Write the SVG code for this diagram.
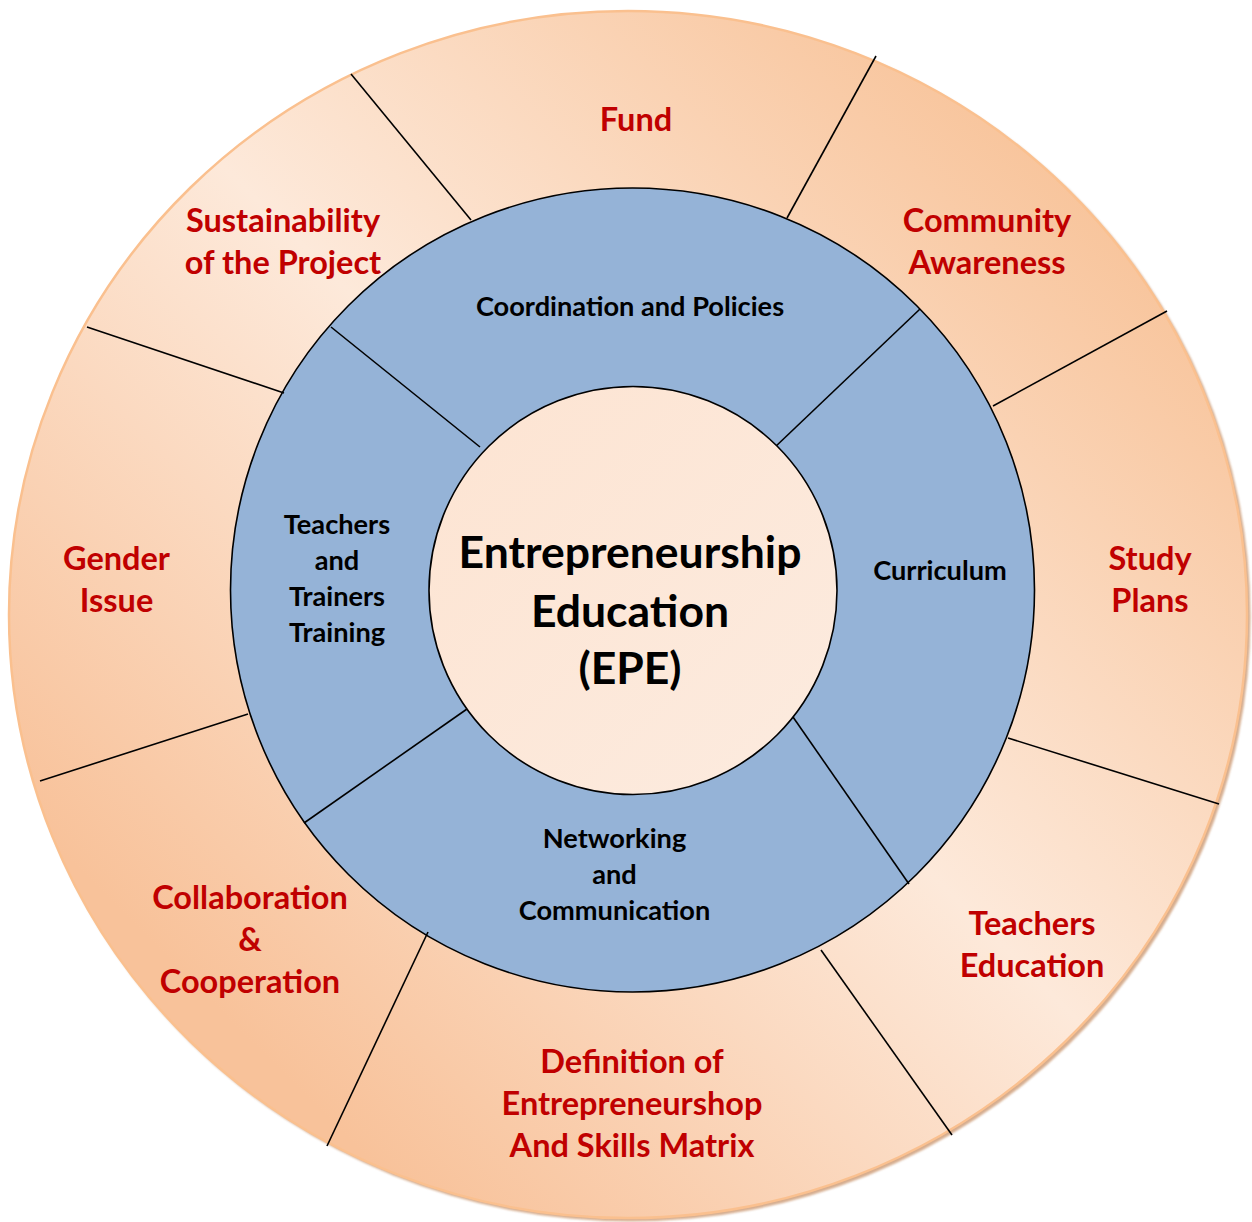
<svg xmlns="http://www.w3.org/2000/svg" width="1252" height="1222" viewBox="0 0 1252 1222">
<style>
.red{font-family:Lato,"Liberation Sans",sans-serif;font-weight:700;font-size:32.5px;fill:#C00000;text-anchor:middle}
.blk{font-family:Lato,"Liberation Sans",sans-serif;font-weight:700;font-size:27.2px;fill:#000;text-anchor:middle}
.ctr{font-family:Lato,"Liberation Sans",sans-serif;font-weight:700;font-size:44.5px;fill:#000;text-anchor:middle}
.div{stroke:#000;stroke-width:1.6;fill:none}
</style>
<defs>
<linearGradient id="ringGrad" gradientUnits="userSpaceOnUse" x1="1081" y1="176" x2="233" y2="1024">
<stop offset="0" stop-color="#F8C49B"/>
<stop offset="0.5" stop-color="#FDE9DA"/>
<stop offset="1" stop-color="#F8C29A"/>
</linearGradient>
<linearGradient id="coreGrad" x1="0" y1="0" x2="1" y2="1">
<stop offset="0" stop-color="#FDE4D2"/>
<stop offset="1" stop-color="#FCEBDF"/>
</linearGradient>
<filter id="sh" x="-5%" y="-5%" width="110%" height="110%"><feGaussianBlur stdDeviation="1.2"/></filter>
</defs>
<g id="outer-ring">
<ellipse cx="630.5" cy="617" rx="620" ry="604.5" fill="#CF9F7A" opacity="0.85" filter="url(#sh)"/>
<ellipse cx="628" cy="614.5" rx="619" ry="603.5" fill="url(#ringGrad)" stroke="#FAC08F" stroke-width="2.5"/>
</g>
<g id="middle-ring">
<circle cx="632.5" cy="590" r="402" fill="#95B3D7" stroke="#000" stroke-width="1.6"/>
</g>
<g id="connectors">
<line class="div" x1="351" y1="74" x2="471" y2="220"/>
<line class="div" x1="876" y1="56" x2="787" y2="218"/>
<line class="div" x1="1167" y1="311" x2="993" y2="406"/>
<line class="div" x1="1219" y1="804" x2="1008" y2="738"/>
<line class="div" x1="952" y1="1135" x2="821" y2="950"/>
<line class="div" x1="327" y1="1146" x2="428" y2="932"/>
<line class="div" x1="40" y1="781" x2="248" y2="714"/>
<line class="div" x1="87" y1="327" x2="284" y2="393"/>
<line class="div" x1="331" y1="327" x2="480" y2="447"/>
<line class="div" x1="920" y1="309" x2="774" y2="448"/>
<line class="div" x1="304" y1="823" x2="467" y2="709"/>
<line class="div" x1="909" y1="884" x2="793" y2="717"/>
</g>
<g id="center">
<circle cx="633" cy="590.5" r="204" fill="url(#coreGrad)" stroke="#000" stroke-width="1.6"/>
<text class="ctr" x="630" y="568">Entrepreneurship</text>
<text class="ctr" x="630" y="627">Education</text>
<text class="ctr" x="630" y="684">(EPE)</text>
</g>
<g id="node-fund"><text class="red" x="636" y="131">Fund</text></g>
<g id="node-sustainability"><text class="red" x="283" y="232">Sustainability</text><text class="red" x="283" y="274">of the Project</text></g>
<g id="node-community"><text class="red" x="987" y="232">Community</text><text class="red" x="987" y="274">Awareness</text></g>
<g id="node-gender"><text class="red" x="116.5" y="570">Gender</text><text class="red" x="116.5" y="612">Issue</text></g>
<g id="node-study"><text class="red" x="1150" y="570">Study</text><text class="red" x="1150" y="612">Plans</text></g>
<g id="node-collaboration"><text class="red" x="250" y="909">Collaboration</text><text class="red" x="250" y="951">&amp;</text><text class="red" x="250" y="993">Cooperation</text></g>
<g id="node-teachers-education"><text class="red" x="1032" y="935">Teachers</text><text class="red" x="1032" y="977">Education</text></g>
<g id="node-definition"><text class="red" x="632" y="1073">Definition of</text><text class="red" x="632" y="1115">Entrepreneurshop</text><text class="red" x="632" y="1157">And Skills Matrix</text></g>
<g id="node-coordination"><text class="blk" x="630" y="316">Coordination and Policies</text></g>
<g id="node-curriculum"><text class="blk" x="940" y="580">Curriculum</text></g>
<g id="node-teachers-training"><text class="blk" x="337" y="534">Teachers</text><text class="blk" x="337" y="570">and</text><text class="blk" x="337" y="606">Trainers</text><text class="blk" x="337" y="642">Training</text></g>
<g id="node-networking"><text class="blk" x="614.5" y="848">Networking</text><text class="blk" x="614.5" y="884">and</text><text class="blk" x="614.5" y="920">Communication</text></g>
</svg>
